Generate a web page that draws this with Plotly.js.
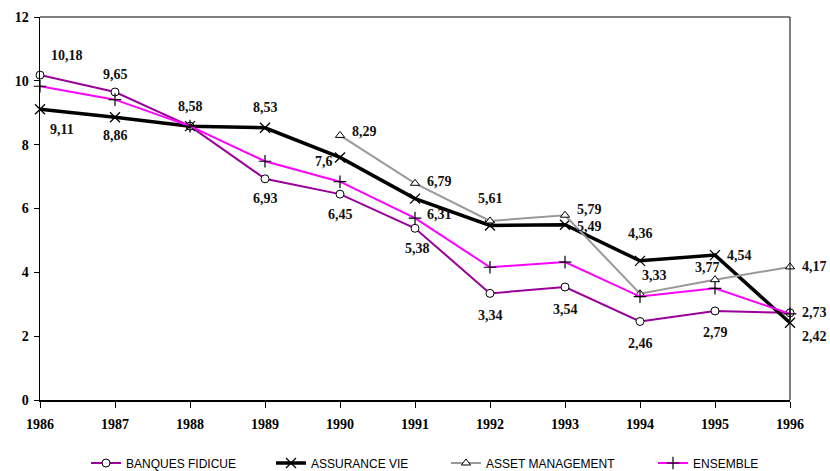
<!DOCTYPE html>
<html>
<head>
<meta charset="utf-8">
<script src="https://cdn.plot.ly/plotly-3.0.1.min.js"></script>
<style>html,body{margin:0;padding:0;background:#fff;}#chart{width:830px;height:471px;}</style>
</head>
<body>
<div id="chart"></div>
<script>
const years = [1986,1987,1988,1989,1990,1991,1992,1993,1994,1995,1996];
const assetYears = [1990,1991,1992,1993,1994,1995,1996];

const banques   = [10.18,9.65,8.58,6.93,6.45,5.38,3.34,3.54,2.46,2.79,2.73];
const assurance = [9.11,8.86,8.58,8.53,7.6,6.31,5.47,5.49,4.36,4.54,2.42];
const asset     = [8.29,6.79,5.61,5.79,3.33,3.77,4.17];
const ensemble  = [9.83,9.41,8.58,7.48,6.84,5.70,4.16,4.32,3.24,3.50,2.70];

const banquesLabels   = ["10,18","9,65","8,58","6,93","6,45","5,38","3,34","3,54","2,46","2,79","2,73"];
const assuranceLabels = ["9,11","8,86","","8,53","7,6","6,31","","5,49","4,36","4,54","2,42"];
const assetLabels     = ["8,29","6,79","5,61","5,79","3,33","3,77","4,17"];

const names = ["BANQUES FIDICUE","ASSURANCE VIE","ASSET MANAGEMENT","ENSEMBLE"];

// label placement: [xshift, yshift] in px
const banquesPos   = [[27,20],[0,18],[0,20],[0,-20],[0,-20],[2,-20],[0,-22],[0,-22],[0,-22],[0,-22],[24,0]];
const assurancePos = [[22,-20],[0,-18],[0,0],[0,20],[-16,-4],[24,-16],[0,0],[24,-2],[0,27],[24,0],[24,-14]];
const assetPos     = [[24,4],[24,2],[0,22],[24,6],[14,18],[-8,12],[24,0]];

const serif = "Liberation Serif, Times New Roman, serif";
const labelFont = {family:serif, size:14, color:"#111"};

const annotations = [];
function addLabels(xs, ys, labels, pos){
  xs.forEach((x,i)=>{
    if(!labels[i]) return;
    annotations.push({x:x, y:ys[i], xref:'x', yref:'y', text:'<b>'+labels[i]+'</b>', showarrow:false,
      xshift:pos[i][0], yshift:pos[i][1], font:labelFont});
  });
}
addLabels(years, banques, banquesLabels, banquesPos);
addLabels(years, assurance, assuranceLabels, assurancePos);
addLabels(assetYears, asset, assetLabels, assetPos);

const traces = [
  {x:years, y:banques, name:names[0], legend:'legend', type:'scatter', mode:'lines+markers', cliponaxis:false,
   line:{color:'#990099', width:2}, marker:{symbol:'circle', size:8, color:'#ffffff', line:{color:'#000', width:1}}},
  {x:years, y:assurance, name:names[1], legend:'legend2', type:'scatter', mode:'lines+markers', cliponaxis:false,
   line:{color:'#000000', width:3.5}, marker:{symbol:'x-thin-open', size:10, color:'#000', line:{color:'#000', width:1.3}}},
  {x:assetYears, y:asset, name:names[2], legend:'legend3', type:'scatter', mode:'lines+markers', cliponaxis:false,
   line:{color:'#999999', width:2}, marker:{symbol:'triangle-up', size:8, color:'#ffffff', line:{color:'#000', width:1}}},
  {x:years, y:ensemble, name:names[3], legend:'legend4', type:'scatter', mode:'lines+markers', cliponaxis:false,
   line:{color:'#ff00ff', width:2}, marker:{symbol:'cross-thin-open', size:9, color:'#000', line:{color:'#000', width:1.2}}}
];

const tickFont = {family:serif, size:14, color:'#000'};
const legFont = {family:"Liberation Sans, Arial, sans-serif", size:12, color:'#000'};
function leg(px){
  return {xref:'container', yref:'container', x:px/830, xanchor:'left', y:(471-463)/471, yanchor:'middle',
    orientation:'h', font:legFont, bgcolor:'rgba(0,0,0,0)', borderwidth:0, itemwidth:30};
}

const layout = {
  width:830, height:471,
  margin:{l:40, r:40, t:17, b:71, autoexpand:false},
  paper_bgcolor:'#fff', plot_bgcolor:'#fff',
  showlegend:true,
  legend:leg(86), legend2:leg(271), legend3:leg(446), legend4:leg(653),
  xaxis:{range:[1986,1996], tickvals:years, ticktext:years.map(y=>'<b>'+y+'</b>'),
    showgrid:false, zeroline:false, showline:true, linecolor:'#000', linewidth:2,
    ticks:'outside', ticklen:6, tickcolor:'#000', tickwidth:1, tickfont:tickFont, ticklabelstandoff:4},
  yaxis:{range:[0,12], tickvals:[0,2,4,6,8,10,12], ticktext:['0','2','4','6','8','10','12'].map(s=>'<b>'+s+'</b>'),
    showgrid:false, zeroline:false, showline:true, linecolor:'#000', linewidth:1.5,
    ticks:'outside', ticklen:5, tickcolor:'#000', tickwidth:1, tickfont:tickFont, ticklabelstandoff:2},
  shapes:[
    {type:'line', xref:'paper', yref:'paper', x0:0, x1:1, y0:1, y1:1, line:{color:'#000', width:1}},
    {type:'line', xref:'paper', yref:'paper', x0:1, x1:1, y0:0, y1:1, line:{color:'#000', width:1}}
  ],
  annotations:annotations
};

Plotly.newPlot('chart', traces, layout, {displayModeBar:false, staticPlot:true});
</script>
</body>
</html>
